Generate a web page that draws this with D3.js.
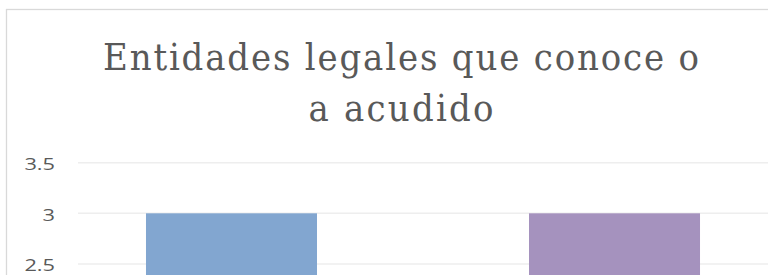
<!DOCTYPE html>
<html>
<head>
<meta charset="utf-8">
<script src="https://cdn.jsdelivr.net/npm/d3@7"></script>
<style>
  html, body { margin: 0; padding: 0; background: #fff; overflow: hidden; }
  svg { display: block; }
</style>
</head>
<body>
<svg id="chart" width="768" height="275"></svg>
<script>
// ---- data ----
const titleLines = ["Entidades legales que conoce o", "a acudido"];
const categories = ["Entidad 1", "Entidad 2"];
const values = [3, 3];
const barColors = ["#82A6D0", "#A592BE"];
const yTicks = [0, 0.5, 1, 1.5, 2, 2.5, 3, 3.5];
const yDomain = [0, 3.5];

// ---- layout ----
const W = 768, H = 275;
const svg = d3.select("#chart");

// chart frame (extends beyond the visible crop)
svg.append("rect")
  .attr("x", 6.5).attr("y", 9.5)
  .attr("width", W + 50).attr("height", H + 50)
  .attr("fill", "#fff")
  .attr("stroke", "#d9d9d9").attr("stroke-width", 1.3);

const plotLeft = 78, plotRight = 768;
const y = d3.scaleLinear().domain(yDomain).range([517, 162.7]);
const x = d3.scaleBand().domain(categories)
  .range([plotLeft, plotRight])
  .paddingInner(0.5535)
  .paddingOuter(0.1775);

// only the ticks that fall inside the visible crop
const visibleTicks = yTicks.filter(d => y(d) < H);

// gridlines
svg.append("g").selectAll("line").data(yTicks).join("line")
  .attr("x1", plotLeft).attr("x2", W + 20)
  .attr("y1", d => y(d)).attr("y2", d => y(d))
  .attr("stroke", "#eeeeee").attr("stroke-width", 1.5);

// y axis labels via d3 axis
const yAxis = d3.axisLeft(y).tickValues(visibleTicks).tickFormat(d3.format("")).tickSize(0).tickPadding(0);
const gy = svg.append("g").attr("transform", "translate(55,0)").call(yAxis);
gy.select(".domain").remove();
gy.selectAll("text")
  .attr("fill", "#595959")
  .style("font-family", "'Open Sans', 'DejaVu Sans', sans-serif")
  .style("font-size", "17px")
  .attr("dy", "6.8px");
gy.selectAll("text").each(function() {
  const w = this.getComputedTextLength();
  d3.select(this).attr("textLength", w * 1.28).attr("lengthAdjust", "spacingAndGlyphs");
});

// bars
svg.append("g").selectAll("rect").data(categories).join("rect")
  .attr("x", d => x(d))
  .attr("width", x.bandwidth())
  .attr("y", (d, i) => y(values[i]))
  .attr("height", (d, i) => y(0) - y(values[i]))
  .attr("fill", (d, i) => barColors[i]);

// title: slightly narrow glyphs with open tracking
const titleWidths = [596, 185];
const titleBaselines = [70, 121];
const glyphScale = 0.92;
svg.append("g").selectAll("text").data(titleLines).join("text")
  .attr("transform", (d, i) => `translate(401,${titleBaselines[i]}) scale(${glyphScale},1)`)
  .attr("text-anchor", "middle")
  .attr("fill", "#595959")
  .style("font-family", "'DejaVu Serif', serif")
  .style("font-size", "37px")
  .text(d => d)
  .each(function(d, i) {
    const w0 = this.getComputedTextLength();
    const ls = (titleWidths[i] / glyphScale - w0) / (d.length - 1);
    d3.select(this).style("letter-spacing", ls + "px");
    d3.select(this).attr("dx", ls / 2);
  });
</script>
</body>
</html>
